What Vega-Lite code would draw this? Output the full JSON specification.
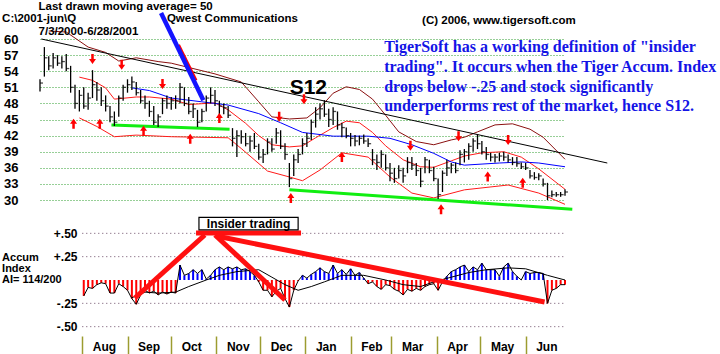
{
"$schema":"https://vega.github.io/schema/vega-lite/v6.json",
"width":525,"height":336,
"autosize":{"type":"none"},
"padding":{"left":40,"top":0,"right":155,"bottom":18},
"background":"white",
"config":{"view":{"stroke":null},"font":"Liberation Sans"},
"datasets":{
"px":[
{"date":"2000-07-03","h":52.5,"l":50.2,"c":51.8},{"date":"2000-07-06","h":58.5,"l":53.0,"c":56.5},{"date":"2000-07-09","h":56.8,"l":54.2,"c":55.0},{"date":"2000-07-12","h":57.4,"l":54.5,"c":56.5},{"date":"2000-07-15","h":57.0,"l":55.0,"c":55.5},{"date":"2000-07-18","h":56.8,"l":54.5,"c":55.8},{"date":"2000-07-21","h":57.2,"l":54.0,"c":54.5},{"date":"2000-07-24","h":55.0,"l":50.0,"c":51.0},{"date":"2000-07-27","h":51.5,"l":47.0,"c":48.0},{"date":"2000-07-30","h":50.5,"l":46.5,"c":49.5},
{"date":"2000-08-02","h":51.0,"l":47.0,"c":47.5},{"date":"2000-08-05","h":50.0,"l":46.8,"c":49.0},{"date":"2000-08-08","h":54.2,"l":49.0,"c":51.5},{"date":"2000-08-11","h":52.0,"l":48.5,"c":50.5},{"date":"2000-08-14","h":51.0,"l":47.5,"c":48.5},{"date":"2000-08-17","h":49.5,"l":46.5,"c":47.5},{"date":"2000-08-20","h":47.5,"l":44.5,"c":45.5},{"date":"2000-08-23","h":46.5,"l":43.8,"c":44.5},{"date":"2000-08-26","h":49.5,"l":45.5,"c":49.0},{"date":"2000-08-29","h":51.5,"l":48.5,"c":51.0},
{"date":"2000-09-01","h":52.5,"l":50.0,"c":51.5},{"date":"2000-09-04","h":53.0,"l":50.5,"c":52.0},{"date":"2000-09-07","h":52.0,"l":49.5,"c":50.0},{"date":"2000-09-10","h":50.5,"l":48.0,"c":48.5},{"date":"2000-09-13","h":49.5,"l":47.0,"c":48.0},{"date":"2000-09-16","h":48.5,"l":45.5,"c":46.5},{"date":"2000-09-19","h":47.5,"l":44.0,"c":44.5},{"date":"2000-09-22","h":46.0,"l":43.6,"c":45.5},{"date":"2000-09-25","h":49.0,"l":46.0,"c":48.5},{"date":"2000-09-28","h":49.5,"l":47.0,"c":48.0},
{"date":"2000-10-01","h":49.2,"l":46.8,"c":48.5},{"date":"2000-10-04","h":49.5,"l":47.0,"c":48.5},{"date":"2000-10-07","h":51.8,"l":48.0,"c":51.0},{"date":"2000-10-10","h":51.0,"l":47.5,"c":48.0},{"date":"2000-10-13","h":49.2,"l":46.0,"c":46.5},{"date":"2000-10-16","h":48.0,"l":45.3,"c":47.0},{"date":"2000-10-19","h":46.8,"l":43.6,"c":44.5},{"date":"2000-10-22","h":47.0,"l":44.5,"c":46.5},{"date":"2000-10-25","h":49.5,"l":46.5,"c":49.0},{"date":"2000-10-28","h":51.0,"l":48.0,"c":49.5},{"date":"2000-10-31","h":50.5,"l":47.5,"c":48.5},
{"date":"2000-11-03","h":48.5,"l":45.5,"c":47.5},{"date":"2000-11-06","h":48.0,"l":46.0,"c":47.2},{"date":"2000-11-09","h":47.5,"l":45.3,"c":45.8},{"date":"2000-11-12","h":43.4,"l":40.0,"c":41.5},{"date":"2000-11-15","h":43.0,"l":38.0,"c":42.0},{"date":"2000-11-18","h":43.0,"l":40.5,"c":41.8},{"date":"2000-11-21","h":42.5,"l":40.0,"c":40.5},{"date":"2000-11-24","h":42.0,"l":39.0,"c":41.0},{"date":"2000-11-27","h":42.5,"l":39.5,"c":40.0},{"date":"2000-11-30","h":40.5,"l":37.5,"c":38.0},
{"date":"2000-12-03","h":39.5,"l":36.9,"c":38.5},{"date":"2000-12-06","h":41.5,"l":38.5,"c":40.8},{"date":"2000-12-09","h":41.5,"l":39.0,"c":39.5},{"date":"2000-12-12","h":43.4,"l":40.5,"c":42.5},{"date":"2000-12-15","h":43.0,"l":39.5,"c":40.0},{"date":"2000-12-18","h":40.6,"l":37.5,"c":38.5},{"date":"2000-12-21","h":36.9,"l":32.4,"c":34.0},{"date":"2000-12-24","h":38.5,"l":34.5,"c":37.5},{"date":"2000-12-27","h":39.5,"l":36.9,"c":38.5},{"date":"2000-12-30","h":41.5,"l":38.5,"c":40.5},
{"date":"2001-01-02","h":42.5,"l":39.9,"c":41.5},{"date":"2001-01-05","h":45.0,"l":41.2,"c":44.5},{"date":"2001-01-08","h":47.3,"l":43.5,"c":46.0},{"date":"2001-01-11","h":48.0,"l":45.0,"c":47.0},{"date":"2001-01-14","h":48.6,"l":45.5,"c":46.0},{"date":"2001-01-17","h":47.0,"l":43.6,"c":45.0},{"date":"2001-01-20","h":47.3,"l":44.0,"c":46.5},{"date":"2001-01-23","h":46.5,"l":43.1,"c":44.0},{"date":"2001-01-26","h":44.4,"l":41.7,"c":43.5},{"date":"2001-01-29","h":43.5,"l":41.5,"c":42.0},
{"date":"2001-02-01","h":42.5,"l":40.0,"c":41.5},{"date":"2001-02-04","h":42.1,"l":40.0,"c":41.0},{"date":"2001-02-07","h":42.0,"l":40.2,"c":41.5},{"date":"2001-02-10","h":42.2,"l":40.5,"c":41.0},{"date":"2001-02-13","h":41.5,"l":39.9,"c":40.5},{"date":"2001-02-16","h":39.5,"l":36.5,"c":37.5},{"date":"2001-02-19","h":38.5,"l":35.6,"c":37.0},{"date":"2001-02-22","h":39.3,"l":36.0,"c":38.5},{"date":"2001-02-25","h":38.5,"l":35.5,"c":36.0},{"date":"2001-02-28","h":36.9,"l":33.5,"c":35.0},
{"date":"2001-03-03","h":36.0,"l":33.2,"c":34.0},{"date":"2001-03-06","h":36.5,"l":34.0,"c":35.5},{"date":"2001-03-09","h":36.0,"l":33.2,"c":34.5},{"date":"2001-03-12","h":38.0,"l":35.0,"c":37.0},{"date":"2001-03-15","h":38.0,"l":35.6,"c":36.5},{"date":"2001-03-18","h":36.9,"l":34.5,"c":35.5},{"date":"2001-03-21","h":36.0,"l":32.4,"c":33.5},{"date":"2001-03-24","h":38.0,"l":35.0,"c":37.5},{"date":"2001-03-27","h":37.5,"l":35.0,"c":35.5},{"date":"2001-03-30","h":36.2,"l":33.5,"c":34.0},
{"date":"2001-04-02","h":34.0,"l":30.2,"c":31.0},{"date":"2001-04-05","h":35.5,"l":31.5,"c":35.0},{"date":"2001-04-08","h":37.5,"l":34.5,"c":36.0},{"date":"2001-04-11","h":36.9,"l":35.0,"c":36.5},{"date":"2001-04-14","h":37.0,"l":35.0,"c":35.5},{"date":"2001-04-17","h":39.3,"l":36.5,"c":38.5},{"date":"2001-04-20","h":39.5,"l":37.0,"c":39.0},{"date":"2001-04-23","h":40.6,"l":37.5,"c":40.0},{"date":"2001-04-26","h":41.5,"l":39.0,"c":41.0},{"date":"2001-04-29","h":42.3,"l":39.5,"c":40.5},
{"date":"2001-05-02","h":41.0,"l":38.5,"c":39.0},{"date":"2001-05-05","h":39.9,"l":37.5,"c":38.5},{"date":"2001-05-08","h":38.8,"l":37.2,"c":38.0},{"date":"2001-05-11","h":38.6,"l":37.0,"c":38.0},{"date":"2001-05-14","h":38.8,"l":37.2,"c":38.2},{"date":"2001-05-17","h":39.0,"l":37.3,"c":38.0},{"date":"2001-05-20","h":38.5,"l":37.0,"c":37.5},{"date":"2001-05-23","h":38.0,"l":36.5,"c":37.0},{"date":"2001-05-26","h":38.0,"l":36.2,"c":36.8},{"date":"2001-05-29","h":37.0,"l":35.8,"c":36.2},
{"date":"2001-06-01","h":36.9,"l":35.6,"c":36.0},{"date":"2001-06-04","h":35.6,"l":34.0,"c":34.5},{"date":"2001-06-07","h":35.2,"l":33.8,"c":34.2},{"date":"2001-06-10","h":35.0,"l":33.7,"c":34.5},{"date":"2001-06-13","h":34.0,"l":32.5,"c":33.0},{"date":"2001-06-16","h":33.2,"l":30.0,"c":30.8},{"date":"2001-06-19","h":31.8,"l":30.5,"c":31.0},{"date":"2001-06-22","h":31.5,"l":30.6,"c":31.0},{"date":"2001-06-25","h":31.5,"l":30.6,"c":31.0},{"date":"2001-06-28","h":32.0,"l":30.8,"c":31.5}
],
"acc":[
{"date":"2000-08-02","ai":-0.17},{"date":"2000-08-05","ai":-0.08},{"date":"2000-08-08","ai":-0.09},{"date":"2000-08-11","ai":-0.05},{"date":"2000-08-14","ai":-0.03},{"date":"2000-08-17","ai":-0.04},{"date":"2000-08-20","ai":-0.14},{"date":"2000-08-23","ai":-0.14},{"date":"2000-08-26","ai":-0.04},{"date":"2000-08-29","ai":-0.07},
{"date":"2000-09-01","ai":-0.11},{"date":"2000-09-04","ai":-0.2},{"date":"2000-09-07","ai":-0.26},{"date":"2000-09-10","ai":-0.16},{"date":"2000-09-13","ai":-0.11},{"date":"2000-09-16","ai":-0.14},{"date":"2000-09-19","ai":-0.12},{"date":"2000-09-22","ai":-0.16},{"date":"2000-09-25","ai":-0.13},{"date":"2000-09-28","ai":-0.15},
{"date":"2000-10-01","ai":-0.13},{"date":"2000-10-04","ai":-0.14},{"date":"2000-10-07","ai":0.16},{"date":"2000-10-10","ai":0.05},{"date":"2000-10-13","ai":0.07},{"date":"2000-10-16","ai":0.11},{"date":"2000-10-19","ai":0.07},{"date":"2000-10-22","ai":0.11},{"date":"2000-10-25","ai":0.01},{"date":"2000-10-28","ai":0.05},{"date":"2000-10-31","ai":0.11},
{"date":"2000-11-03","ai":0.14},{"date":"2000-11-06","ai":0.11},{"date":"2000-11-09","ai":0.14},{"date":"2000-11-12","ai":0.12},{"date":"2000-11-15","ai":0.14},{"date":"2000-11-18","ai":0.11},{"date":"2000-11-21","ai":0.12},{"date":"2000-11-24","ai":0.09},{"date":"2000-11-27","ai":0.05},{"date":"2000-11-30","ai":-0.02},
{"date":"2000-12-03","ai":-0.11},{"date":"2000-12-06","ai":-0.11},{"date":"2000-12-09","ai":-0.18},{"date":"2000-12-12","ai":-0.12},{"date":"2000-12-15","ai":-0.09},{"date":"2000-12-18","ai":-0.2},{"date":"2000-12-21","ai":-0.29},{"date":"2000-12-24","ai":-0.11},{"date":"2000-12-27","ai":-0.01},{"date":"2000-12-30","ai":0.05},
{"date":"2001-01-02","ai":0.02},{"date":"2001-01-05","ai":0.06},{"date":"2001-01-08","ai":0.09},{"date":"2001-01-11","ai":0.13},{"date":"2001-01-14","ai":0.09},{"date":"2001-01-17","ai":0.07},{"date":"2001-01-20","ai":0.16},{"date":"2001-01-23","ai":0.07},{"date":"2001-01-26","ai":0.11},{"date":"2001-01-29","ai":0.06},
{"date":"2001-02-01","ai":0.12},{"date":"2001-02-04","ai":0.05},{"date":"2001-02-07","ai":0.08},{"date":"2001-02-10","ai":0.02},{"date":"2001-02-13","ai":-0.04},{"date":"2001-02-16","ai":-0.02},{"date":"2001-02-19","ai":-0.07},{"date":"2001-02-22","ai":-0.1},{"date":"2001-02-25","ai":-0.05},{"date":"2001-02-28","ai":-0.06},
{"date":"2001-03-03","ai":-0.1},{"date":"2001-03-06","ai":-0.12},{"date":"2001-03-09","ai":-0.16},{"date":"2001-03-12","ai":-0.1},{"date":"2001-03-15","ai":-0.12},{"date":"2001-03-18","ai":-0.09},{"date":"2001-03-21","ai":-0.11},{"date":"2001-03-24","ai":-0.07},{"date":"2001-03-27","ai":-0.05},{"date":"2001-03-30","ai":-0.04},
{"date":"2001-04-02","ai":-0.11},{"date":"2001-04-05","ai":-0.02},{"date":"2001-04-08","ai":0.04},{"date":"2001-04-11","ai":0.09},{"date":"2001-04-14","ai":0.11},{"date":"2001-04-17","ai":0.14},{"date":"2001-04-20","ai":0.16},{"date":"2001-04-23","ai":0.09},{"date":"2001-04-26","ai":0.14},{"date":"2001-04-29","ai":0.11},
{"date":"2001-05-02","ai":0.18},{"date":"2001-05-05","ai":0.11},{"date":"2001-05-08","ai":0.11},{"date":"2001-05-11","ai":0.11},{"date":"2001-05-14","ai":0.04},{"date":"2001-05-17","ai":0.14},{"date":"2001-05-20","ai":0.18},{"date":"2001-05-23","ai":0.09},{"date":"2001-05-26","ai":0.04},{"date":"2001-05-29","ai":0.0},
{"date":"2001-06-01","ai":0.09},{"date":"2001-06-04","ai":0.07},{"date":"2001-06-07","ai":0.08},{"date":"2001-06-10","ai":0.08},{"date":"2001-06-13","ai":0.07},{"date":"2001-06-16","ai":-0.25},{"date":"2001-06-19","ai":-0.11},{"date":"2001-06-22","ai":-0.09},{"date":"2001-06-25","ai":-0.05},{"date":"2001-06-28","ai":-0.05}
],
"accma":[
{"date":"2000-09-04","v":-0.19},{"date":"2000-09-13","v":-0.13},{"date":"2000-09-22","v":-0.14},{"date":"2000-10-04","v":-0.13},{"date":"2000-10-13","v":-0.07},{"date":"2000-10-25","v":0.0},{"date":"2000-11-03","v":0.05},{"date":"2000-11-15","v":0.09},{"date":"2000-11-30","v":0.11},{"date":"2000-12-09","v":0.03},{"date":"2000-12-18","v":-0.05},{"date":"2000-12-27","v":-0.11},{"date":"2001-01-05","v":-0.07},{"date":"2001-01-14","v":-0.02},{"date":"2001-01-26","v":0.05},{"date":"2001-02-10","v":0.05},{"date":"2001-02-25","v":0.0},{"date":"2001-03-09","v":-0.05},{"date":"2001-03-21","v":-0.07},{"date":"2001-03-30","v":-0.02},{"date":"2001-04-11","v":0.03},{"date":"2001-04-23","v":0.08},{"date":"2001-05-05","v":0.11},{"date":"2001-05-20","v":0.13},{"date":"2001-06-01","v":0.12},{"date":"2001-06-16","v":0.05},{"date":"2001-06-28","v":0.0}
],
"bands":[
{"band":"mu","date":"2000-07-09","p":61.5},{"band":"mu","date":"2000-07-21","p":61.3},{"band":"mu","date":"2000-08-05","p":58.5},{"band":"mu","date":"2000-08-17","p":57.5},{"band":"mu","date":"2000-08-26","p":55.9},{"band":"mu","date":"2000-09-07","p":56.5},{"band":"mu","date":"2000-09-22","p":55.8},{"band":"mu","date":"2000-10-01","p":55.5},{"band":"mu","date":"2000-10-31","p":53.5},{"band":"mu","date":"2000-11-18","p":52.0},{"band":"mu","date":"2000-11-30","p":48.3},{"band":"mu","date":"2000-12-09","p":45.5},{"band":"mu","date":"2000-12-21","p":45.1},{"band":"mu","date":"2001-01-02","p":45.3},{"band":"mu","date":"2001-01-11","p":47.2},{"band":"mu","date":"2001-01-20","p":49.9},{"band":"mu","date":"2001-01-29","p":51.1},{"band":"mu","date":"2001-02-07","p":50.6},{"band":"mu","date":"2001-02-16","p":48.8},{"band":"mu","date":"2001-02-25","p":45.8},{"band":"mu","date":"2001-03-06","p":42.7},{"band":"mu","date":"2001-03-18","p":40.9},{"band":"mu","date":"2001-03-30","p":40.3},{"band":"mu","date":"2001-04-11","p":41.2},{"band":"mu","date":"2001-04-20","p":41.7},{"band":"mu","date":"2001-04-29","p":42.7},{"band":"mu","date":"2001-05-11","p":44.0},{"band":"mu","date":"2001-05-23","p":44.2},{"band":"mu","date":"2001-06-04","p":43.2},{"band":"mu","date":"2001-06-13","p":41.7},{"band":"mu","date":"2001-06-28","p":37.6},
{"band":"ru","date":"2000-07-30","p":52.9},{"band":"ru","date":"2000-08-08","p":52.3},{"band":"ru","date":"2000-08-17","p":50.9},{"band":"ru","date":"2000-08-23","p":48.8},{"band":"ru","date":"2000-09-07","p":49.2},{"band":"ru","date":"2000-09-16","p":49.2},{"band":"ru","date":"2000-10-01","p":48.8},{"band":"ru","date":"2000-10-13","p":47.8},{"band":"ru","date":"2000-10-31","p":48.1},{"band":"ru","date":"2000-11-09","p":46.8},{"band":"ru","date":"2000-11-21","p":44.3},{"band":"ru","date":"2000-11-30","p":42.0},{"band":"ru","date":"2000-12-09","p":40.3},{"band":"ru","date":"2000-12-21","p":39.9},{"band":"ru","date":"2000-12-30","p":40.1},{"band":"ru","date":"2001-01-08","p":41.6},{"band":"ru","date":"2001-01-20","p":43.5},{"band":"ru","date":"2001-01-29","p":44.7},{"band":"ru","date":"2001-02-07","p":44.4},{"band":"ru","date":"2001-02-16","p":42.6},{"band":"ru","date":"2001-02-25","p":40.1},{"band":"ru","date":"2001-03-09","p":37.5},{"band":"ru","date":"2001-03-21","p":36.2},{"band":"ru","date":"2001-03-30","p":36.1},{"band":"ru","date":"2001-04-11","p":37.3},{"band":"ru","date":"2001-04-20","p":38.2},{"band":"ru","date":"2001-05-02","p":38.8},{"band":"ru","date":"2001-05-17","p":39.0},{"band":"ru","date":"2001-05-29","p":38.0},{"band":"ru","date":"2001-06-10","p":35.8},{"band":"ru","date":"2001-06-28","p":32.0},
{"band":"rl","date":"2000-07-30","p":45.3},{"band":"rl","date":"2000-08-11","p":43.7},{"band":"rl","date":"2000-08-23","p":41.8},{"band":"rl","date":"2000-09-07","p":42.1},{"band":"rl","date":"2000-10-01","p":41.8},{"band":"rl","date":"2000-11-09","p":41.6},{"band":"rl","date":"2000-11-18","p":39.6},{"band":"rl","date":"2000-12-06","p":35.4},{"band":"rl","date":"2000-12-21","p":34.3},{"band":"rl","date":"2000-12-30","p":33.6},{"band":"rl","date":"2001-01-11","p":35.6},{"band":"rl","date":"2001-01-26","p":38.8},{"band":"rl","date":"2001-02-13","p":38.0},{"band":"rl","date":"2001-02-28","p":34.3},{"band":"rl","date":"2001-03-15","p":31.3},{"band":"rl","date":"2001-03-30","p":30.4},{"band":"rl","date":"2001-04-20","p":31.9},{"band":"rl","date":"2001-05-20","p":32.8},{"band":"rl","date":"2001-06-10","p":31.3},{"band":"rl","date":"2001-06-28","p":29.2},
{"band":"ma","date":"2000-09-04","p":50.9},{"band":"ma","date":"2000-09-16","p":50.4},{"band":"ma","date":"2000-10-01","p":49.0},{"band":"ma","date":"2000-10-22","p":48.3},{"band":"ma","date":"2000-11-09","p":47.7},{"band":"ma","date":"2000-11-30","p":46.1},{"band":"ma","date":"2000-12-15","p":44.4},{"band":"ma","date":"2000-12-30","p":42.6},{"band":"ma","date":"2001-01-20","p":41.9},{"band":"ma","date":"2001-02-13","p":41.9},{"band":"ma","date":"2001-02-28","p":41.5},{"band":"ma","date":"2001-03-15","p":40.3},{"band":"ma","date":"2001-03-30","p":38.7},{"band":"ma","date":"2001-04-11","p":37.1},{"band":"ma","date":"2001-04-20","p":36.5},{"band":"ma","date":"2001-05-14","p":36.9},{"band":"ma","date":"2001-05-29","p":37.1},{"band":"ma","date":"2001-06-10","p":36.9},{"band":"ma","date":"2001-06-28","p":36.2}
],
"trend":[{"date":"2000-07-04","p":60.0,"date2":"2001-07-27","p2":36.9}],
"green":[{"date":"2000-08-21","p":44.0,"date2":"2000-11-10","p2":43.2},{"date":"2000-12-21","p":31.9,"date2":"2001-07-03","p2":28.3}],
"pointerRed":[{"date":"2000-10-06","p":58.9,"date2":"2000-10-18","p2":52.3}],
"pointerBlue":[{"date":"2000-09-24","p":64.85,"date2":"2000-10-23","p2":48.6}],
"arrows":[
{"date":"2000-07-26","p":44.2,"dir":"up"},{"date":"2000-08-13","p":44.2,"dir":"up"},{"date":"2000-09-12","p":42.9,"dir":"up"},{"date":"2000-10-14","p":41.4,"dir":"up"},{"date":"2000-11-03","p":45.3,"dir":"up"},{"date":"2000-12-22","p":30.4,"dir":"up"},{"date":"2001-01-26","p":38.0,"dir":"up"},{"date":"2001-04-04","p":28.3,"dir":"up"},{"date":"2001-05-06","p":34.4,"dir":"up"},{"date":"2001-05-30","p":33.2,"dir":"up"},
{"date":"2000-08-08","p":56.3,"dir":"down"},{"date":"2000-08-28","p":55.2,"dir":"down"},{"date":"2000-09-25","p":51.6,"dir":"down"},{"date":"2000-12-14","p":45.5,"dir":"down"},{"date":"2000-12-31","p":48.8,"dir":"down"},{"date":"2001-03-14","p":40.1,"dir":"down"},{"date":"2001-04-16","p":41.9,"dir":"down"},{"date":"2001-05-20","p":41.2,"dir":"down"}
],
"hdr":[
{"date":"2000-07-02","p":65.97,"t":"Last drawn moving average= 50"},
{"date":"2000-06-07","p":63.7,"t":"C:\\2001-jun\\Q"},
{"date":"2000-07-02","p":61.4,"t":"7/3/2000-6/28/2001"},
{"date":"2000-09-28","p":63.7,"t":"Qwest Communications"},
{"date":"2001-03-22","p":63.4,"t":"(C) 2006, www.tigersoft.com"}
],
"note":[
{"date":"2001-02-24","p":58.5,"t":"TigerSoft has a working definition of \"insider"},
{"date":"2001-02-24","p":54.7,"t":"trading\".  It occurs when the Tiger Accum. Index"},
{"date":"2001-02-24","p":51.0,"t":"drops below -.25 and stock significantly"},
{"date":"2001-02-24","p":47.6,"t":"underperforms rest of the market, hence S12."}
],
"sig":[{"date":"2001-01-03","p":50.9,"t":"S12"}],
"agrid":[{"v":0.5,"date":"2000-08-01","date2":"2001-06-28"},{"v":0.25,"date":"2000-08-01","date2":"2001-06-28"},{"v":-0.25,"date":"2000-08-01","date2":"2001-06-28"},{"v":-0.5,"date":"2000-08-01","date2":"2001-06-28"}],
"aseg":[
{"date":"2000-09-06","a":-0.193,"date2":"2000-10-24","a2":0.482},
{"date":"2000-10-18","a":0.504,"date2":"2000-12-29","a2":0.504},
{"date":"2000-10-31","a":0.482,"date2":"2000-12-18","a2":-0.214},
{"date":"2000-11-01","a":0.471,"date2":"2001-06-14","a2":-0.236}
],
"box":[{"date":"2000-10-20","date2":"2000-12-27","a":0.672,"a2":0.536}],
"boxlab":[{"date":"2000-11-23","a":0.604,"t":"Insider trading"}],
"alab":[{"date":"2000-06-07","a":0.235,"t":"Accum"},{"date":"2000-06-07","a":0.117,"t":"Index"},{"date":"2000-06-07","a":-0.001,"t":"AI= 114/200"}]
},
"encoding":{
"x":{"field":"date","type":"temporal","title":null,
"scale":{"type":"utc","domain":[{"year":2000,"month":7,"date":3,"utc":true},{"year":2001,"month":6,"date":28,"utc":true}]},
"axis":{"values":[{"year":2000,"month":8,"date":1,"utc":true},{"year":2000,"month":9,"date":1,"utc":true},{"year":2000,"month":10,"date":1,"utc":true},{"year":2000,"month":11,"date":1,"utc":true},{"year":2000,"month":12,"date":1,"utc":true},{"year":2001,"month":1,"date":1,"utc":true},{"year":2001,"month":2,"date":1,"utc":true},{"year":2001,"month":3,"date":1,"utc":true},{"year":2001,"month":4,"date":1,"utc":true},{"year":2001,"month":5,"date":1,"utc":true},{"year":2001,"month":6,"date":1,"utc":true}],
"tickCount":40,"format":"%b","labelAlign":"left","labelOffset":10,"labelBaseline":"middle","labelPadding":-8,"tickSize":18,"tickColor":"#9c9c30","tickWidth":1.5,"domain":false,"grid":false,"title":null,"labelFont":"Liberation Sans","labelFontSize":12,"labelFontWeight":"bold","labelColor":"black","labelFlush":false,"labelOverlap":false}}
},
"resolve":{"scale":{"y":"independent"}},
"layer":[
{"layer":[
{"data":{"name":"bands"},"mark":{"type":"line","strokeWidth":1},
"encoding":{"y":{"field":"p","type":"quantitative","title":null,"scale":{"domain":[4.67,67.27],"nice":false,"zero":false},
"axis":{"orient":"left","values":[30,33,36,39,42,45,48,51,54,57,60],"tickCount":40,"grid":true,"gridColor":"#2f9f2f","gridDash":[1,2],"gridWidth":1,"domain":false,"ticks":false,"tickSize":0,"labelPadding":22,"labelOverlap":false,"labelFlush":false,"labelFont":"Liberation Sans","labelFontSize":13,"labelFontWeight":"bold","labelColor":"black","title":null}},
"color":{"field":"band","type":"nominal","scale":{"domain":["mu","ru","rl","ma"],"range":["#8b1010","#ff1a1a","#ff1a1a","#0000ff"]},"legend":null}}},
{"data":{"name":"trend"},"mark":{"type":"rule","color":"black","strokeWidth":1},
"encoding":{"x2":{"field":"date2"},"y":{"field":"p","type":"quantitative","title":null},"y2":{"field":"p2"}}},
{"data":{"name":"green"},"mark":{"type":"rule","color":"#11ee11","strokeWidth":3},
"encoding":{"x2":{"field":"date2"},"y":{"field":"p","type":"quantitative","title":null},"y2":{"field":"p2"}}},
{"data":{"name":"px"},"mark":{"type":"rule","color":"black","strokeWidth":1.3},
"encoding":{"y":{"field":"l","type":"quantitative","title":null},"y2":{"field":"h"}}},
{"data":{"name":"px"},"mark":{"type":"tick","orient":"horizontal","size":3,"thickness":1.3,"color":"black","xOffset":1.5},
"encoding":{"y":{"field":"c","type":"quantitative","title":null}}},
{"data":{"name":"arrows"},"mark":{"type":"point","shape":"M-0.25,1L0.25,1L0.25,0L0.7,0L0,-1L-0.7,0L-0.25,0Z","filled":true,"color":"#ff0000","opacity":1,"size":100},
"encoding":{"y":{"field":"p","type":"quantitative","title":null},
"angle":{"condition":{"test":"datum.dir === 'down'","value":180},"value":0}}},
{"data":{"name":"pointerRed"},"mark":{"type":"rule","color":"#ff0000","strokeWidth":3},
"encoding":{"x2":{"field":"date2"},"y":{"field":"p","type":"quantitative","title":null},"y2":{"field":"p2"}}},
{"data":{"name":"pointerBlue"},"mark":{"type":"rule","color":"#1414ff","strokeWidth":4.5},
"encoding":{"x2":{"field":"date2"},"y":{"field":"p","type":"quantitative","title":null},"y2":{"field":"p2"}}},
{"data":{"name":"hdr"},"mark":{"type":"text","align":"left","baseline":"middle","font":"Liberation Sans","fontSize":11.5,"fontWeight":"bold","color":"black"},
"encoding":{"y":{"field":"p","type":"quantitative","title":null},"text":{"field":"t"}}},
{"data":{"name":"note"},"mark":{"type":"text","align":"left","baseline":"middle","font":"Liberation Serif","fontSize":16,"fontWeight":"bold","color":"#1414e6"},
"encoding":{"y":{"field":"p","type":"quantitative","title":null},"text":{"field":"t"}}},
{"data":{"name":"sig"},"mark":{"type":"text","align":"center","baseline":"middle","font":"Liberation Sans","fontSize":21,"fontWeight":"bold","color":"black"},
"encoding":{"y":{"field":"p","type":"quantitative","title":null},"text":{"field":"t"}}}
]},
{"layer":[
{"data":{"name":"acc"},"mark":{"type":"rule","strokeWidth":2},
"encoding":{"y":{"field":"ai","type":"quantitative","title":null,"scale":{"domain":[-0.6,3.0],"nice":false,"zero":false},
"axis":{"orient":"left","offset":-38,"values":[-0.5,-0.25,0.25,0.5],"tickCount":40,"labelExpr":"datum.value > 0.4 ? '+.50' : datum.value > 0 ? '+.25' : datum.value > -0.4 ? '-.25' : '-.50'","grid":false,"domain":false,"ticks":false,"tickSize":0,"labelPadding":1,"labelOverlap":false,"labelFlush":false,"labelFont":"Liberation Sans","labelFontSize":12,"labelFontWeight":"bold","labelColor":"black","title":null}},
"y2":{"datum":0},
"color":{"condition":{"test":"datum.ai < 0","value":"#ff0000"},"value":"#0000ff"}}},
{"data":{"name":"agrid"},"mark":{"type":"rule","color":"#6a4a66","strokeDash":[1,3],"strokeWidth":1},
"encoding":{"x2":{"field":"date2"},"y":{"field":"v","type":"quantitative","title":null}}},
{"data":{"name":"acc"},"mark":{"type":"line","color":"black","strokeWidth":1},
"encoding":{"y":{"field":"ai","type":"quantitative","title":null}}},
{"data":{"name":"accma"},"mark":{"type":"line","color":"black","strokeWidth":1},
"encoding":{"y":{"field":"v","type":"quantitative","title":null}}},
{"data":{"name":"aseg"},"mark":{"type":"rule","color":"#ff1010","strokeWidth":5},
"encoding":{"x2":{"field":"date2"},"y":{"field":"a","type":"quantitative","title":null},"y2":{"field":"a2"}}},
{"data":{"name":"box"},"mark":{"type":"rect","fill":"white","stroke":"black","strokeWidth":1.2},
"encoding":{"x2":{"field":"date2"},"y":{"field":"a","type":"quantitative","title":null},"y2":{"field":"a2"}}},
{"data":{"name":"boxlab"},"mark":{"type":"text","align":"center","baseline":"middle","font":"Liberation Sans","fontSize":12,"fontWeight":"bold","color":"black"},
"encoding":{"y":{"field":"a","type":"quantitative","title":null},"text":{"field":"t"}}},
{"data":{"name":"alab"},"mark":{"type":"text","align":"left","baseline":"middle","font":"Liberation Sans","fontSize":11,"fontWeight":"bold","color":"black"},
"encoding":{"y":{"field":"a","type":"quantitative","title":null},"text":{"field":"t"}}}
]}
]
}
